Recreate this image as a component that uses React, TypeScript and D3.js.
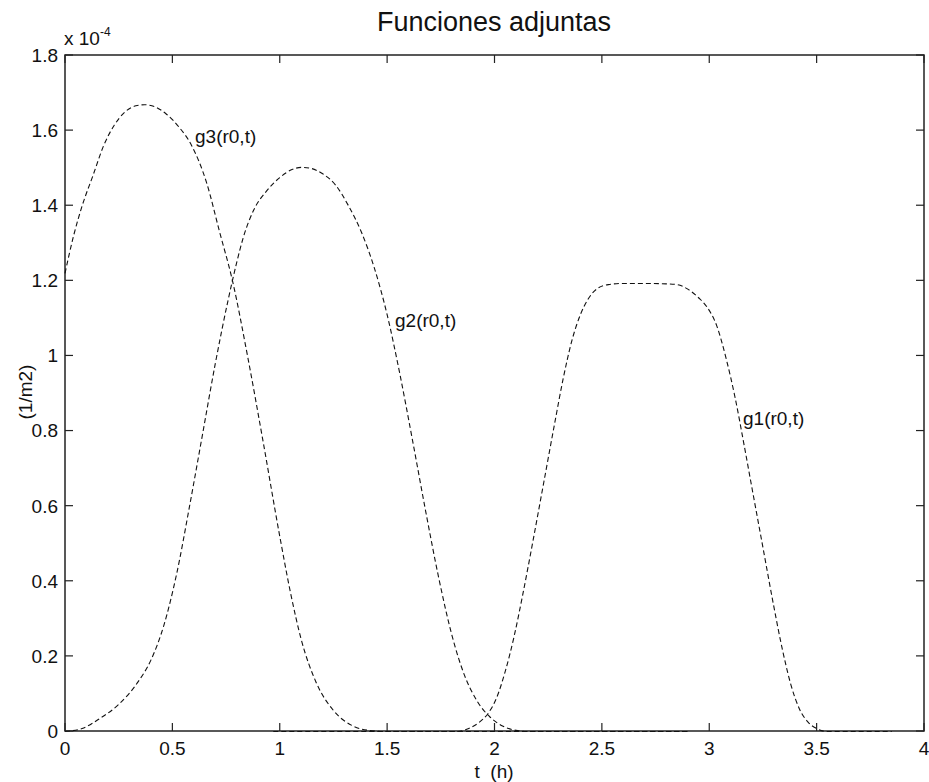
import React from "react";
import * as d3 from "d3";

// Adjoint functions g1, g2, g3 (units 1e-4 · 1/m2) sampled over time t in hours
const g1T = [0.97, 1.5, 1.83, 1.88, 1.93, 1.97, 2.01, 2.05, 2.09, 2.13, 2.18, 2.23, 2.28, 2.32, 2.36, 2.4, 2.44, 2.48, 2.53, 2.6, 2.7, 2.8, 2.85, 2.9, 2.95, 2.99, 3.035, 3.08, 3.12, 3.16, 3.2, 3.25, 3.3, 3.34, 3.38, 3.42, 3.46, 3.5, 3.55, 3.7, 3.85];
const g1V = [0, 0, 0, 0.008, 0.025, 0.048, 0.09, 0.16, 0.25, 0.36, 0.51, 0.665, 0.82, 0.94, 1.04, 1.11, 1.155, 1.18, 1.19, 1.193, 1.193, 1.192, 1.19, 1.178, 1.155, 1.13, 1.08, 0.99, 0.89, 0.77, 0.645, 0.49, 0.335, 0.22, 0.125, 0.06, 0.025, 0.008, 0, 0, 0];

const g2T = [0, 0.08, 0.163, 0.25, 0.34, 0.4, 0.46, 0.52, 0.58, 0.64, 0.7, 0.76, 0.8, 0.83, 0.88, 0.94, 1.0, 1.06, 1.1, 1.14, 1.2, 1.26, 1.32, 1.38, 1.44, 1.5, 1.56, 1.62, 1.68, 1.74, 1.8, 1.86, 1.92, 1.98, 2.04, 2.1, 2.15, 2.5, 2.9];
const g2V = [0, 0.008, 0.035, 0.072, 0.132, 0.19, 0.282, 0.42, 0.6, 0.79, 0.98, 1.15, 1.25, 1.315, 1.39, 1.44, 1.475, 1.497, 1.502, 1.5, 1.485, 1.455, 1.4, 1.33, 1.235, 1.11, 0.95, 0.77, 0.585, 0.41, 0.26, 0.15, 0.08, 0.038, 0.014, 0.003, 0, 0, 0];

const g3T = [0, 0.04, 0.08, 0.13, 0.18, 0.23, 0.28, 0.33, 0.37, 0.42, 0.47, 0.53, 0.59, 0.66, 0.72, 0.78, 0.85, 0.92, 1.0, 1.05, 1.1, 1.17, 1.25, 1.34, 1.43, 1.5, 2.0, 2.5, 2.9];
const g3V = [1.22, 1.32, 1.4, 1.48, 1.56, 1.615, 1.65, 1.666, 1.669, 1.663, 1.645, 1.61, 1.56, 1.46, 1.33, 1.2, 1.0, 0.78, 0.52, 0.37, 0.245, 0.13, 0.056, 0.015, 0.002, 0, 0, 0, 0];

const curveLabels = ["g1(r0,t)", "g2(r0,t)", "g3(r0,t)"];
const xTicks = [0, 0.5, 1, 1.5, 2, 2.5, 3, 3.5, 4];
const yTicks = [0, 0.2, 0.4, 0.6, 0.8, 1, 1.2, 1.4, 1.6, 1.8];

const W = 929;
const H = 782;
const left = 65;
const right = 924;
const top = 55;
const bottom = 731;
const FONT = "'Liberation Sans', Arial, sans-serif";

export default function App() {
  const x = d3.scaleLinear().domain([0, 4]).range([left, right]);
  const y = d3.scaleLinear().domain([0, 1.8]).range([bottom, top]);

  const line = d3
    .line<[number, number]>()
    .x((d) => x(d[0]))
    .y((d) => y(d[1]))
    .curve(d3.curveMonotoneX);

  const series = [
    { t: g1T, v: g1V, label: curveLabels[0], lx: 743, ly: 425 },
    { t: g2T, v: g2V, label: curveLabels[1], lx: 395, ly: 327 },
    { t: g3T, v: g3V, label: curveLabels[2], lx: 195, ly: 143 },
  ];

  const tickLen = 8;
  const fmt = (d: number) => String(d);

  return (
    <svg
      width={W}
      height={H}
      style={{ position: "absolute", left: 0, top: 0, background: "#fff" }}
      fontFamily={FONT}
    >
      <rect x={0} y={0} width={W} height={H} fill="#fff" />

      {/* axes box */}
      <rect
        x={left}
        y={top}
        width={right - left}
        height={bottom - top}
        fill="none"
        stroke="#222"
        strokeWidth={1.5}
      />

      {/* curves */}
      {series.map((s) => (
        <path
          key={s.label}
          d={line(s.t.map((t, i) => [t, s.v[i]] as [number, number])) || ""}
          fill="none"
          stroke="#111"
          strokeWidth={1.1}
          strokeDasharray="5,3"
          transform="translate(0,0.5)"
        />
      ))}

      {/* x ticks */}
      {xTicks.map((t) => (
        <g key={"x" + t}>
          <line x1={x(t)} x2={x(t)} y1={bottom} y2={bottom - tickLen} stroke="#222" strokeWidth={1.2} />
          <line x1={x(t)} x2={x(t)} y1={top} y2={top + tickLen} stroke="#222" strokeWidth={1.2} />
          <text x={x(t)} y={755} textAnchor="middle" fontSize={19} fill="#111">
            {fmt(t)}
          </text>
        </g>
      ))}

      {/* y ticks */}
      {yTicks.map((v) => (
        <g key={"y" + v}>
          <line x1={left} x2={left + tickLen} y1={y(v)} y2={y(v)} stroke="#222" strokeWidth={1.2} />
          <line x1={right} x2={right - tickLen} y1={y(v)} y2={y(v)} stroke="#222" strokeWidth={1.2} />
          <text x={58} y={y(v)} dy="0.36em" textAnchor="end" fontSize={19} fill="#111">
            {fmt(v)}
          </text>
        </g>
      ))}

      {/* exponent */}
      <text x={64} y={45} fontSize={19} fill="#111">
        x 10
        <tspan dy={-9} fontSize={12}>
          -4
        </tspan>
      </text>

      {/* curve labels */}
      {series.map((s) => (
        <text key={"l" + s.label} x={s.lx} y={s.ly} fontSize={19} fill="#111">
          {s.label}
        </text>
      ))}

      {/* title and axis labels */}
      <text x={494} y={31} textAnchor="middle" fontSize={27} fill="#111">
        Funciones adjuntas
      </text>
      <text x={494} y={778} textAnchor="middle" fontSize={19} fill="#111">
        {"t\u00a0\u00a0(h)"}
      </text>
      <text
        transform="translate(32,392) rotate(-90)"
        textAnchor="middle"
        fontSize={19}
        fill="#111"
      >
        (1/m2)
      </text>
    </svg>
  );
}
